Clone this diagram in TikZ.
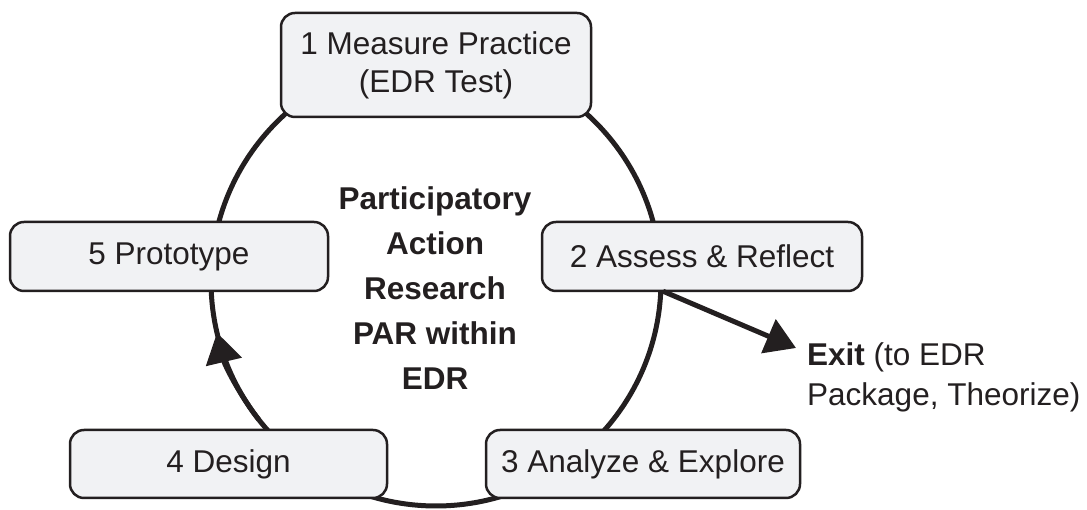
\documentclass[tikz,border=0pt]{standalone}
\usepackage{fontspec}
\setmainfont{Liberation Sans}
\usetikzlibrary{arrows.meta}
\definecolor{ink}{HTML}{231F20}
\definecolor{boxfill}{HTML}{F1F2F4}
\tikzset{
  stagebox/.style={draw=ink, line width=2.5pt, fill=boxfill, rounded corners=14pt,
    inner sep=0pt, text=ink, font=\fontsize{31.5}{38}\selectfont, align=center},
  cycleline/.style={draw=ink, line width=5pt},
  bigtip/.style={-{Triangle[length=30pt,width=36pt]}},
}
\begin{document}
\begin{tikzpicture}[x=1pt,y=1pt]
\useasboundingbox (0,0) rectangle (1087,510);
\coordinate (c) at (436,229);
\draw[cycleline] (c) circle[radius=225];
\draw[cycleline, bigtip] ([shift=(218:225)]c) arc[start angle=218,end angle=193.3,radius=225];
\node[stagebox, minimum width=310pt, minimum height=104pt] (b1) at (436,445) {1 Measure Practice\\(EDR Test)};
\node[stagebox, minimum width=318pt, minimum height=69pt] (b5) at (169,253.5) {5 Prototype};
\node[stagebox, minimum width=320pt, minimum height=69pt] (b2) at (702,253.5) {2 Assess \& Reflect};
\node[stagebox, minimum width=317pt, minimum height=68pt] (b4) at (228.5,46) {4 Design};
\node[stagebox, minimum width=314pt, minimum height=68pt] (b3) at (643,46) {3 Analyze \& Explore};
\node[text=ink, font=\fontsize{31.5}{45}\selectfont\bfseries, align=center] (par) at (435,222)
  {Participatory\\Action\\Research\\PAR within\\EDR};
\node[text=ink, font=\fontsize{31.5}{40}\selectfont, align=left, anchor=west, inner sep=0pt] (exit) at (807,133)
  {\textbf{Exit} (to EDR\\Package, Theorize)};
\coordinate (exittip) at (796,162);
\draw[cycleline, bigtip] ([xshift=-39pt,yshift=1pt]b2.south) -- (exittip);
\end{tikzpicture}
\end{document}
